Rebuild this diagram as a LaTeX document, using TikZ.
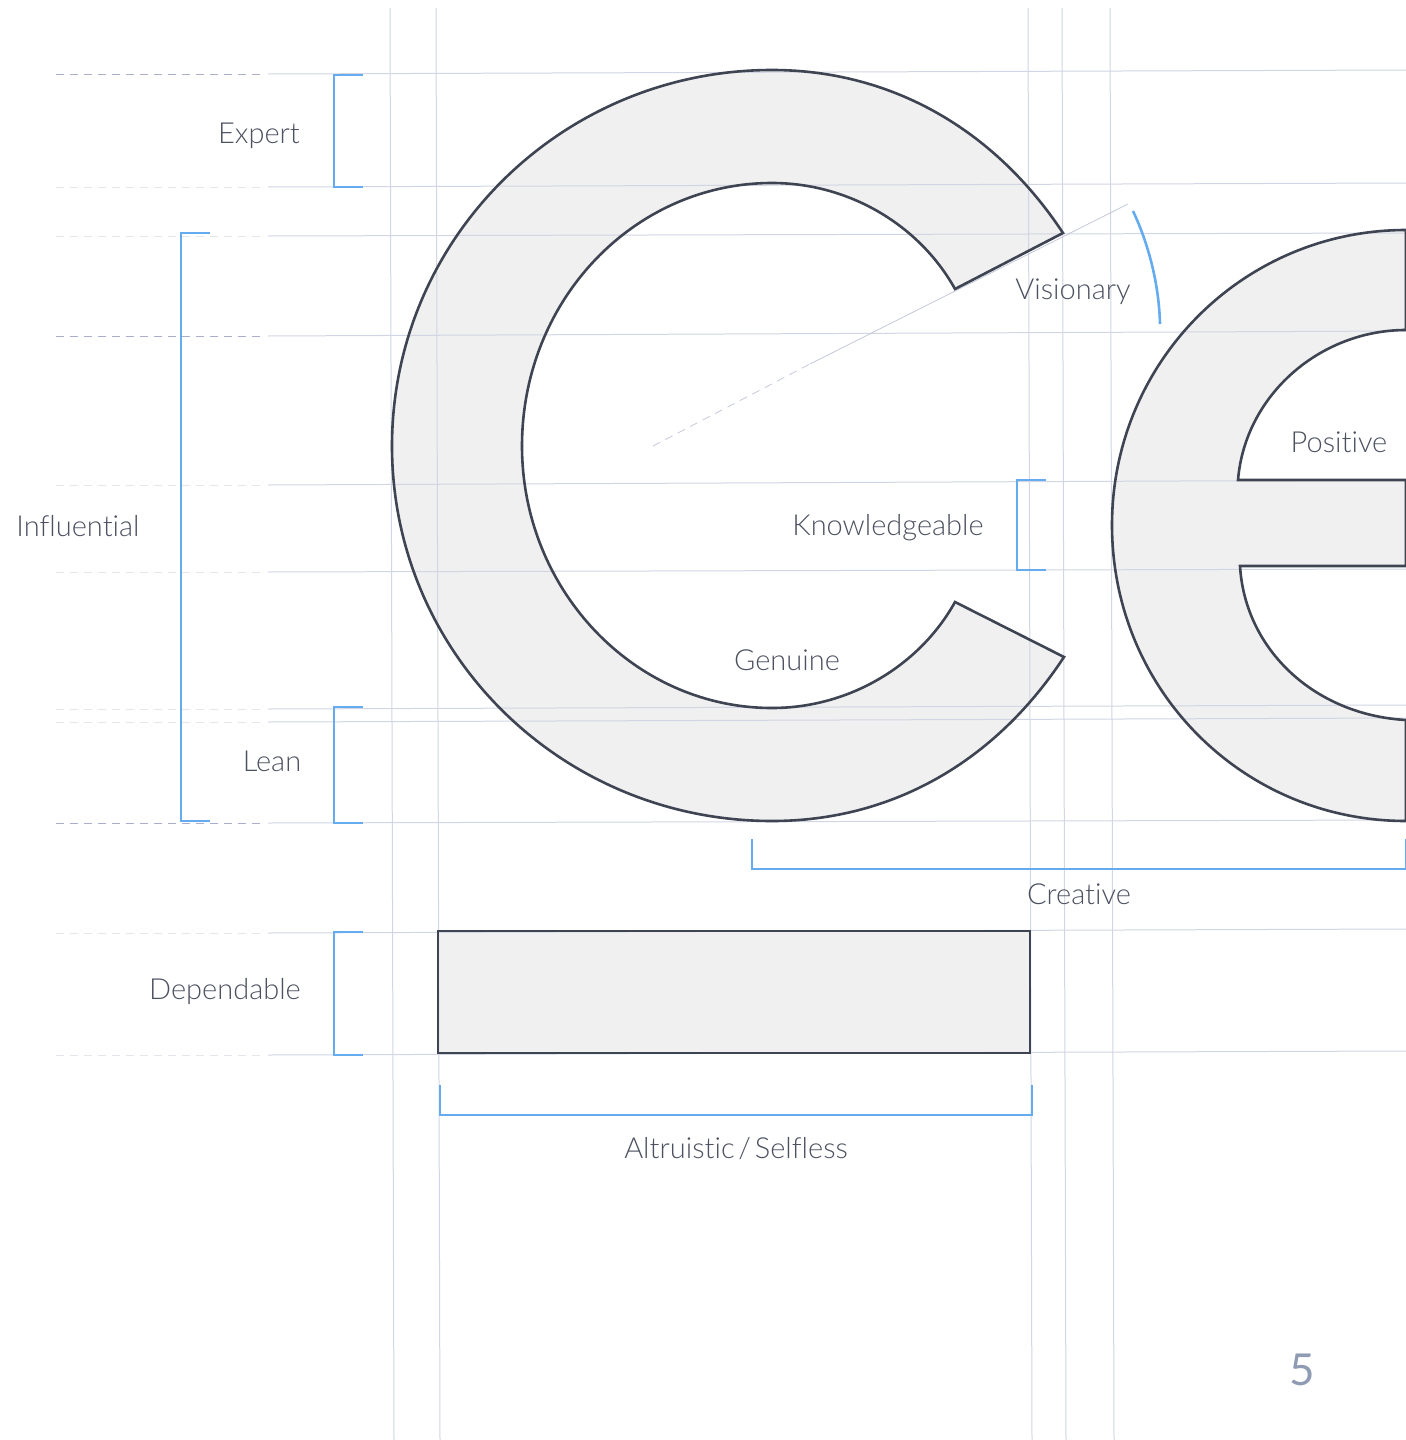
\documentclass[tikz,border=0pt]{standalone}
\usepackage{fontspec}
\setmainfont{Lato}[UprightFont=* Light,Ligatures=NoCommon]
\newfontfamily\regularlato{Lato}
\definecolor{guide}{HTML}{D2D5E3}
\definecolor{dashl}{HTML}{E4E6EB}
\definecolor{dashd}{HTML}{A9AECB}
\definecolor{radialk}{HTML}{C4C8DA}
\definecolor{bluek}{HTML}{64ABF0}
\definecolor{inkk}{HTML}{3E4452}
\definecolor{fillk}{HTML}{F0F0F0}
\definecolor{labelk}{HTML}{4C5160}
\definecolor{pagek}{HTML}{8F9BB3}
\tikzset{
  guideline/.style={draw=guide,line width=0.5pt},
  radialline/.style={draw=radialk,line width=0.4pt},
  dashlight/.style={draw=dashl,line width=0.5pt,dash pattern=on 4pt off 3pt},
  dashdark/.style={draw=dashd,line width=0.5pt,dash pattern=on 4pt off 3pt},
  bracketk/.style={draw=bluek,line width=1.3pt},
  glyphk/.style={draw=inkk,line width=1.3pt,line join=miter},
  glyphfill/.style={fill=fillk},
  lab/.style={text=labelk,font=\fontsize{14.5}{17}\selectfont,inner sep=0pt,anchor=base}
}
\newcommand{\shapeC}{(772,70) .. controls (562,70) and (392,238) .. (392,446)
  .. controls (392,654) and (562,821) .. (772,821)
  .. controls (892,821) and (995,762) .. (1064,657)
  -- (955,602)
  .. controls (920,665) and (850,708) .. (772,708)
  .. controls (634,708) and (522,590) .. (522,446)
  .. controls (522,300) and (634,183) .. (772,183)
  .. controls (850,183) and (920,226) .. (955,289)
  -- (1063,233)
  .. controls (995,130) and (892,70) .. (772,70) -- cycle}
\newcommand{\shapeE}{(1406,230) .. controls (1243,230) and (1112,362) .. (1112,525)
  .. controls (1112,690) and (1243,821) .. (1406,821)
  -- (1406,720)
  .. controls (1315,715) and (1245,650) .. (1240,566)
  -- (1406,566) -- (1406,480) -- (1238,480)
  .. controls (1245,395) and (1320,330) .. (1406,330)
  -- cycle}
\begin{document}
\begin{tikzpicture}[x=0.5pt,y=-0.5pt]
\useasboundingbox (0,0) rectangle (1406,1440);
\clip (0,0) rectangle (1406,1440);
% filled glyphs
\path[glyphfill] \shapeC;
\path[glyphfill] \shapeE;
\path[glyphfill] (438,931) rectangle (1030,1053);
% vertical guides
\foreach \xa in {390,436,1028,1062,1110}
  \draw[guideline] (\xa,8) -- ({\xa+4},1440);
% horizontal guides
\foreach \ya/\yb in {74/70,187/183,236/233,336/331,485/480,572/569,709/705,722/718,823/820,933/929,1055/1051}
  \draw[guideline] (268,\ya) -- (1406,\yb);
% dashed extensions
\foreach \ya in {187,236,485,572,709,722,933,1055}
  \draw[dashlight] (56,\ya) -- (262,\ya);
\foreach \ya in {74,336,823}
  \draw[dashdark] (56,\ya) -- (262,\ya);
% radial line
\draw[dashlight,draw=radialk,line width=0.4pt] (653,446) -- (810,364);
\draw[radialline] (810,364) -- (1128,204);
% outlines
\draw[glyphk] \shapeC;
\draw[glyphk] \shapeE;
\draw[glyphk] (438,931) rectangle (1030,1053);
% brackets
\draw[bracketk] (363,75) -- (334,75) -- (334,187) -- (363,187);
\draw[bracketk] (210,233) -- (181,233) -- (181,821) -- (210,821);
\draw[bracketk] (363,707) -- (334,707) -- (334,823) -- (363,823);
\draw[bracketk] (363,932) -- (334,932) -- (334,1055) -- (363,1055);
\draw[bracketk] (1046,480) -- (1017,480) -- (1017,570) -- (1046,570);
\draw[bracketk] (752,839) -- (752,869) -- (1406,869) -- (1406,839);
\draw[bracketk] (440,1085) -- (440,1115) -- (1032,1115) -- (1032,1085);
\draw[bracketk] (1133,211) .. controls (1149,245) and (1159,285) .. (1160,324);
% labels
\node[lab] (expert) at (259,143) {Expert};
\node[lab] (influential) at (78,536) {Influential};
\node[lab] (lean) at (272,771) {Lean};
\node[lab] (dependable) at (225,999) {Dependable};
\node[lab] (visionary) at (1073,299) {Visionary};
\node[lab] (positive) at (1339,452) {Positive};
\node[lab] (knowledgeable) at (888,535) {Knowledgeable};
\node[lab] (genuine) at (787,670.5) {Genuine};
\node[lab] (creative) at (1079,904) {Creative};
\node[lab] (altruistic) at (736,1158.5) {Altruistic\kern1.9pt/\kern1.9pt Selfless};
\node[inner sep=0pt,anchor=base,text=pagek,font=\regularlato\fontsize{22}{26}\selectfont] (pagenum) at (1302,1385) {5};
\end{tikzpicture}
\end{document}
